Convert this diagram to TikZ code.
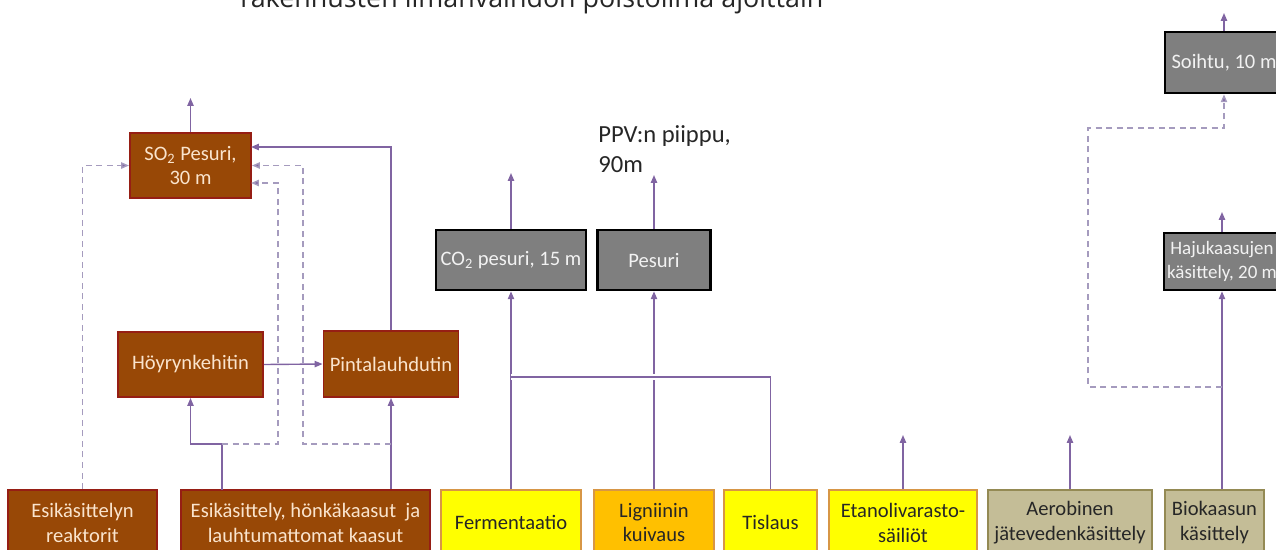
\documentclass[tikz,border=0pt]{standalone}
\usepackage{fontspec}
\setmainfont{Carlito}
\newfontfamily\ttlfont{Open Sans}
\usetikzlibrary{arrows.meta}

\definecolor{brn}{RGB}{152,72,6}
\definecolor{brnline}{RGB}{150,30,20}
\definecolor{brntxt}{RGB}{250,228,205}
\definecolor{gry}{RGB}{127,127,127}
\definecolor{grytxt}{RGB}{242,242,242}
\definecolor{ylw}{RGB}{255,255,0}
\definecolor{org}{RGB}{255,192,0}
\definecolor{ylwline}{RGB}{215,150,70}
\definecolor{tan}{RGB}{196,189,151}
\definecolor{tanline}{RGB}{148,138,84}
\definecolor{lil}{RGB}{128,100,162}
\definecolor{lildash}{RGB}{165,155,190}

\begin{document}
\begin{tikzpicture}[x=0.02cm,y=-0.02cm]
    \tikzstyle{box}=[draw, line width=1.1pt, inner sep=2pt, align=center, font=\fontsize{11.7}{14.2}\selectfont]
    \tikzstyle{brbox}=[box, fill=brn, draw=brnline, text=brntxt]
    \tikzstyle{grbox}=[box, fill=gry, draw=black, line width=1.5pt, text=grytxt]
    \tikzstyle{ybox}=[box, fill=ylw, draw=ylwline, text=black!85]
    \tikzstyle{obox}=[box, fill=org, draw=ylwline, text=black!85]
    \tikzstyle{tbox}=[box, fill=tan, draw=tanline, text=black!85]
    \tikzstyle{arr}=[draw=lil, line width=0.8pt, -{Triangle[length=4.5pt,width=3.6pt]}]
    \tikzstyle{ln}=[draw=lil, line width=0.8pt]
    \tikzstyle{dsh}=[draw=lildash, line width=0.8pt, dash pattern=on 3.4pt off 2.6pt, -{Triangle[length=4.5pt,width=3.6pt,fill=lil]}]
    \useasboundingbox (0,0) rectangle (1276,549);
    \clip (0,0) rectangle (1276,549);
    % title, cut at the top
    \node[anchor=base west, inner sep=0pt, font=\ttlfont\fontsize{15.3}{16}\selectfont, text=black!85] (ttl) at (240,7) {rakennusten ilmanvaihdon poistoilma ajoittain};
    \node[anchor=north west, align=left, inner sep=0pt, font=\fontsize{14}{17}\selectfont, text=black!85] (ppv) at (598,125) {PPV:n piippu,\\90m};
    % upper boxes
    \node[brbox, minimum width=2.42cm, minimum height=1.3cm] (so2) at (190.5,165.5) {SO\textsubscript{2} Pesuri,\\30 m};
    \node[grbox, minimum width=3.0cm, minimum height=1.2cm] (co2) at (511,260) {CO\textsubscript{2} pesuri, 15 m};
    \node[grbox, minimum width=2.26cm, minimum height=1.2cm] (pes) at (654,260) {Pesuri};
    \node[grbox, minimum width=2.36cm, minimum height=1.22cm] (soi) at (1224,62.5) {Soihtu, 10 m};
    \node[grbox, inner sep=0pt, minimum width=2.32cm, minimum height=1.14cm, font=\fontsize{10.8}{13.5}\selectfont] (haju) at (1222,261.5) {Hajukaasujen\\käsittely, 20 m};
    \node[brbox, minimum width=2.9cm, minimum height=1.3cm] (hoy) at (190.5,364.5) {Höyrynkehitin};
    \node[brbox, minimum width=2.7cm, minimum height=1.32cm] (pin) at (391,364) {Pintalauhdutin};
    % bottom row
    \node[brbox, minimum width=2.98cm, minimum height=1.3cm] (ekr) at (82.5,522.5) {Esikäsittelyn\\reaktorit};
    \node[brbox, minimum width=4.98cm, minimum height=1.3cm] (eh) at (305.5,522.5) {Esikäsittely, hönkäkaasut\ \ ja\\lauhtumattomat kaasut};
    \node[ybox, minimum width=2.8cm, minimum height=1.3cm] (fer) at (511,522.5) {Fermentaatio};
    \node[obox, minimum width=2.4cm, minimum height=1.3cm] (lig) at (654,522.5) {Ligniinin\\kuivaus};
    \node[ybox, minimum width=1.86cm, minimum height=1.3cm] (tis) at (770.5,522.5) {Tislaus};
    \node[ybox, minimum width=2.96cm, minimum height=1.3cm] (eta) at (903,522.5) {Etanolivarasto-\\säiliöt};
    \node[tbox, minimum width=3.28cm, minimum height=1.3cm] (aer) at (1070,522.5) {Aerobinen\\jätevedenkäsittely};
    \node[tbox, minimum width=1.98cm, minimum height=1.3cm] (bio) at (1214.5,522.5) {Biokaasun\\käsittely};
    % free ends and bends
    \coordinate (so2up) at (190.5,98);
    \coordinate (co2up) at (511,173);
    \coordinate (pesup) at (654,175);
    \coordinate (soiup) at (1224,13);
    \coordinate (hajuup) at (1222,212);
    \coordinate (etaup) at (903,435);
    \coordinate (aerup) at (1070,435);
    \coordinate (s1) at (251,147);
    \coordinate (s3) at (251,183);
    \coordinate (ehA) at (222,490);
    \coordinate (jA) at (222,444);
    \coordinate (jB) at (278,444);
    \coordinate (jC) at (391,444);
    \coordinate (jD) at (511,377);
    \coordinate (jE) at (1222,387);
    \coordinate (kE) at (1088,128);
    % connectors
    \draw[arr] (so2.north) -- (so2up);
    \draw[arr] (co2.north) -- (co2up);
    \draw[arr] (pes.north) -- (pesup);
    \draw[arr] (soi.north) -- (soiup);
    \draw[arr] (haju.north) -- (hajuup);
    \draw[arr] (eta.north) -- (etaup);
    \draw[arr] (aer.north) -- (aerup);
    \draw[dsh] (ekr.north) |- (so2.west);
    \draw[arr] (ehA) -- (jA) -| (hoy.south);
    \draw[dsh] (jA) -| (jB) |- (s3);
    \draw[arr] (eh.north -| pin.south) -- (pin.south);
    \draw[dsh] (jC) -- (303,444) |- (so2.east);
    \draw[arr] (pin.north) |- (s1);
    \draw[arr] (hoy.east) -- (pin.west);
    \draw[arr] (fer.north) -- (co2.south);
    \draw[arr] (lig.north) -- (pes.south);
    \draw[ln, preaction={draw=white, line width=3pt}] (tis.north) |- (jD);
    \draw[ln] (tis.north) |- (jD);
    \draw[arr] (haju.south |- bio.north) -- (haju.south);
    \draw[dsh] (jE) -| (kE) -| (soi.south);
  \end{tikzpicture}
\end{document}
